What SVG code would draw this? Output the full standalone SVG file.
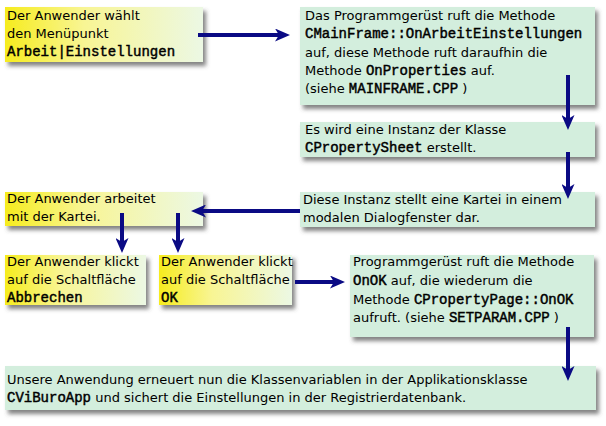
<svg xmlns="http://www.w3.org/2000/svg" width="606" height="426" viewBox="0 0 606 426">
<style>
  .t { font-family: "DejaVu Sans", "Liberation Sans", sans-serif; font-size: 13px; fill: #000; }
  .m { font-family: "Liberation Mono", "DejaVu Sans Mono", monospace; font-size: 14px; font-weight: normal; stroke: #000; stroke-width: 0.45; }
  .y { fill: url(#yg); filter: url(#sh); }
  .g { fill: #d3eedd; filter: url(#sh); }
  .a { stroke: #0a0a84; stroke-width: 4; fill: none; marker-end: url(#ah); }
</style>
<defs>
  <linearGradient id="yg" x1="0" y1="0" x2="1" y2="0">
    <stop offset="0" stop-color="#f6ec1e"/>
    <stop offset="0.4" stop-color="#f8f594"/>
    <stop offset="1" stop-color="#ecf8e4"/>
  </linearGradient>
  <filter id="sh" x="-5%" y="-10%" width="115%" height="140%">
    <feDropShadow dx="3" dy="4" stdDeviation="2" flood-color="#505050" flood-opacity="0.7"/>
  </filter>
  <marker id="ah" viewBox="0 0 15 13" refX="9" refY="6.5" markerWidth="15" markerHeight="13" orient="auto" markerUnits="userSpaceOnUse">
    <path d="M0,0 L15,6.5 L0,13 L4,6.5 z" fill="#0a0a84"/>
  </marker>
</defs>

<g id="n1">
  <rect class="y" x="5" y="7" width="198" height="55"/>
  <text class="t" x="7" y="20">Der Anwender wählt</text>
  <text class="t" x="7" y="38">den Menüpunkt</text>
  <text class="t" x="7" y="56"><tspan class="m">Arbeit|Einstellungen</tspan></text>
</g>

<g id="n2">
  <rect class="g" x="300" y="7" width="295" height="98"/>
  <text class="t" x="305" y="20">Das Programmgerüst ruft die Methode</text>
  <text class="t" x="305" y="38"><tspan class="m">CMainFrame::OnArbeitEinstellungen</tspan></text>
  <text class="t" x="305" y="57">auf, diese Methode ruft daraufhin die</text>
  <text class="t" x="305" y="75">Methode <tspan class="m">OnProperties</tspan> auf.</text>
  <text class="t" x="305" y="93">(siehe <tspan class="m">MAINFRAME.CPP</tspan> )</text>
</g>

<g id="n3">
  <rect class="g" x="300" y="122" width="295" height="35"/>
  <text class="t" x="305" y="134">Es wird eine Instanz der Klasse</text>
  <text class="t" x="305" y="152"><tspan class="m">CPropertySheet</tspan> erstellt.</text>
</g>

<g id="n4">
  <rect class="g" x="300" y="192" width="295" height="35"/>
  <text class="t" x="303" y="204">Diese Instanz stellt eine Kartei in einem</text>
  <text class="t" x="303" y="222">modalen Dialogfenster dar.</text>
</g>

<g id="n5">
  <rect class="y" x="5" y="192" width="198" height="34"/>
  <text class="t" x="7" y="203">Der Anwender arbeitet</text>
  <text class="t" x="7" y="221">mit der Kartei.</text>
</g>

<g id="n6">
  <rect class="y" x="5" y="255" width="141" height="50"/>
  <text class="t" x="7" y="266">Der Anwender klickt</text>
  <text class="t" x="7" y="284">auf die Schaltfläche</text>
  <text class="t" x="7" y="302"><tspan class="m">Abbrechen</tspan></text>
</g>

<g id="n7">
  <rect class="y" x="159" y="255" width="133" height="50"/>
  <text class="t" x="161" y="266">Der Anwender klickt</text>
  <text class="t" x="161" y="284">auf die Schaltfläche</text>
  <text class="t" x="161" y="302"><tspan class="m">OK</tspan></text>
</g>

<g id="n8">
  <rect class="g" x="350" y="255" width="244" height="82"/>
  <text class="t" x="353" y="266">Programmgerüst ruft die Methode</text>
  <text class="t" x="353" y="285"><tspan class="m">OnOK</tspan>  auf, die wiederum die</text>
  <text class="t" x="353" y="304">Methode <tspan class="m">CPropertyPage::OnOK</tspan></text>
  <text class="t" x="353" y="322">aufruft. (siehe <tspan class="m">SETPARAM.CPP</tspan> )</text>
</g>

<g id="n9">
  <rect class="g" x="5" y="366" width="591" height="44"/>
  <text class="t" x="7" y="384">Unsere Anwendung erneuert nun die Klassenvariablen in der Applikationsklasse</text>
  <text class="t" x="7" y="402"><tspan class="m">CViBuroApp</tspan> und sichert die Einstellungen in der Registrierdatenbank.</text>
</g>

<g id="connectors">
  <line class="a" x1="198" y1="35" x2="284" y2="35"/>
  <line class="a" x1="568" y1="75" x2="568" y2="124"/>
  <line class="a" x1="568" y1="152" x2="568" y2="193"/>
  <line class="a" x1="300" y1="211" x2="197" y2="211"/>
  <line class="a" x1="122" y1="213" x2="122" y2="247"/>
  <line class="a" x1="178" y1="213" x2="178" y2="247"/>
  <line class="a" x1="295" y1="282" x2="339" y2="282"/>
  <line class="a" x1="568" y1="327" x2="568" y2="375"/>
</g>
</svg>
